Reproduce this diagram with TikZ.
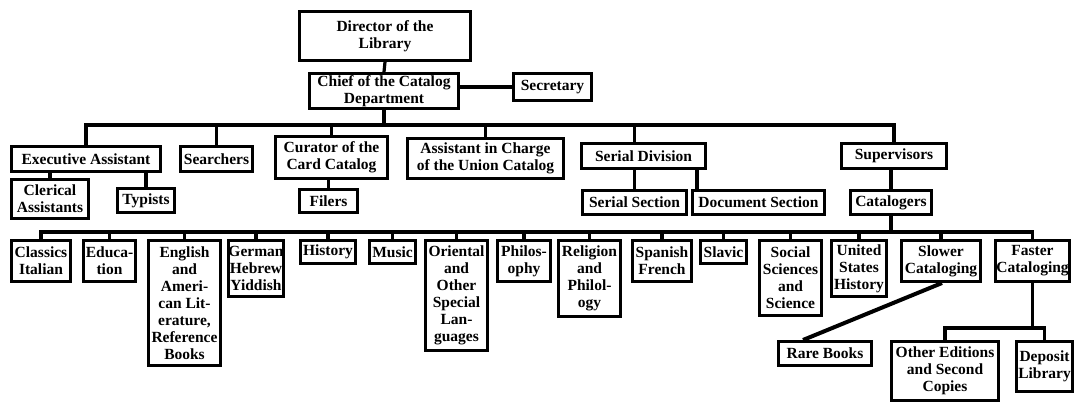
\documentclass[tikz,border=0pt]{standalone}
\usepackage{fontspec}
\setmainfont{Liberation Serif}
\begin{document}
\begin{tikzpicture}[x=1pt,y=-1pt,
  box/.style={draw=black, line width=2.8pt, inner sep=0pt, align=center,
    font=\fontsize{15.5}{17}\selectfont\bfseries},
  conn/.style={draw=black, line width=3.2pt, line cap=rect}]
\useasboundingbox (0,0) rectangle (1076,404);
\newcommand\orgbox[6]{%
  \node[box, minimum width={(#4-#2-2.8)*1pt}, minimum height={(#5-#3-2.8)*1pt}]
    (#1) at ({(#2+#4)/2},{(#3+#5)/2}) {#6};}
% top
\orgbox{director}{298}{10}{472}{62}{Director of the\\Library}
\orgbox{chief}{308}{72}{460}{110}{Chief of the Catalog\\Department}
\orgbox{secretary}{512}{72}{593}{102}{Secretary}
% row 1
\orgbox{exec}{10}{145}{162}{173}{Executive Assistant}
\orgbox{searchers}{179}{145}{254}{173}{Searchers}
\orgbox{curator}{274}{135}{389}{180}{Curator of the\\Card Catalog}
\orgbox{assistant}{406}{137}{565}{180}{Assistant in Charge\\of the Union Catalog}
\orgbox{serdiv}{580}{142}{707}{170}{Serial Division}
\orgbox{sup}{840}{142}{948}{170}{Supervisors}
% row 2
\orgbox{clerical}{10}{178}{90}{220}{Clerical\\Assistants}
\orgbox{typists}{116}{187}{176}{214}{Typists}
\orgbox{filers}{298}{188}{359}{214}{Filers}
\orgbox{sersec}{581}{189}{688}{216}{Serial Section}
\orgbox{docsec}{691}{189}{826}{216}{Document Section}
\orgbox{cat}{849}{189}{933}{216}{Catalogers}
% row 3
\orgbox{classics}{10}{239}{72}{283}{Classics\\Italian}
\orgbox{education}{82}{239}{137}{283}{Educa-\\tion}
\orgbox{english}{147}{239}{222}{367}{English\\and\\Ameri-\\can Lit-\\erature,\\Reference\\Books}
\orgbox{german}{227}{239}{285}{298}{German\\Hebrew\\Yiddish}
\orgbox{history}{299}{239}{357}{265}{History}
\orgbox{music}{368}{239}{417}{265}{Music}
\orgbox{oriental}{424}{239}{489}{352}{Oriental\\and\\Other\\Special\\Lan-\\guages}
\orgbox{philosophy}{496}{239}{552}{283}{Philos-\\ophy}
\orgbox{religion}{557}{239}{622}{318}{Religion\\and\\Philol-\\ogy}
\orgbox{spanish}{631}{239}{693}{283}{Spanish\\French}
\orgbox{slavic}{699}{239}{748}{265}{Slavic}
\orgbox{social}{758}{239}{823}{317}{Social\\Sciences\\and\\Science}
\orgbox{us}{830}{239}{888}{298}{United\\States\\History}
\orgbox{slower}{900}{239}{982}{283}{Slower\\Cataloging}
\orgbox{faster}{994}{239}{1071}{283}{Faster\\Cataloging}
% row 4
\orgbox{rare}{777}{340}{873}{367}{Rare Books}
\orgbox{other}{890}{340}{1000}{402}{Other Editions\\and Second\\Copies}
\orgbox{deposit}{1015}{340}{1074}{393}{Deposit\\Library}
% bus coordinates
\coordinate (bus1) at (0,125);
\coordinate (bus3) at (0,232);
\coordinate (bus4) at (0,328);
\coordinate (docdrop) at ([xshift=6pt]docsec.north west);
\coordinate (slowfoot) at ([xshift=1pt]slower.south);
\coordinate (rarehead) at ([xshift=-22pt]rare.north);
% connectors
\draw[conn] (director.south) -- (chief.north);
\draw[conn] (secretary.west) -- (secretary.west -| chief.east);
\draw[conn] (chief.south) -- (chief.south |- bus1);
\draw[conn] (exec.north |- bus1) -- (sup.north |- bus1);
\foreach \n in {exec,searchers,curator,assistant,sup}
  \draw[conn] (\n.north) -- (\n.north |- bus1);
\draw[conn] (sersec.north |- bus1) -- (sersec.north |- serdiv.north);
\draw[conn] (clerical.north) -- (clerical.north |- exec.south);
\draw[conn] (typists.north) -- (typists.north |- exec.south);
\draw[conn] (filers.north) -- (filers.north |- curator.south);
\draw[conn] (sersec.north) -- (sersec.north |- serdiv.south);
\draw[conn] (docdrop) -- (docdrop |- serdiv.south);
\draw[conn] (cat.north) -- (cat.north |- sup.south);
\draw[conn] (cat.south) -- (cat.south |- bus3);
\draw[conn] (classics.north |- bus3) -- (faster.north |- bus3);
\foreach \n in {classics,education,english,german,history,music,oriental,philosophy,religion,spanish,slavic,social,us,slower,faster}
  \draw[conn] (\n.north) -- (\n.north |- bus3);
\draw[conn, line width=4pt, line cap=butt] (slowfoot) -- (rarehead);
\draw[conn] (faster.south) -- (faster.south |- bus4);
\draw[conn] (other.north) -- (other.north |- bus4) -- (deposit.north |- bus4) -- (deposit.north);
\end{tikzpicture}
\end{document}
